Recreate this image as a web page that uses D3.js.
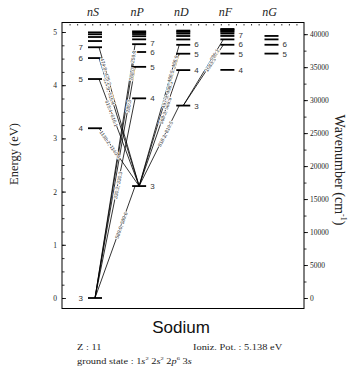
<!DOCTYPE html>
<html>
<head>
<meta charset="utf-8">
<script src="https://cdn.jsdelivr.net/npm/d3@7"></script>
<style>
  body { margin: 0; background: #fff; }
</style>
</head>
<body>
<svg id="chart" width="348" height="368"></svg>
<script>
// term series and their headers
const series = ["S", "P", "D", "F", "G"];
const seriesHeaders = ["nS", "nP", "nD", "nF", "nG"];
const firstN = { S: 3, P: 3, D: 3, F: 4, G: 5 };

// level energies (eV), starting at firstN of each series
const levelsS = [0, 3.191, 4.116, 4.510, 4.713, 4.830, 4.906, 4.957, 4.993];
const levelsP = [2.104, 3.753, 4.345, 4.624, 4.771, 4.862, 4.921, 4.962, 4.991, 5.012];
const levelsD = [3.617, 4.284, 4.592, 4.759, 4.860, 4.925, 4.970, 5.002, 5.026];
const levelsF = [4.288, 4.594, 4.760, 4.861, 4.926, 4.971, 5.003, 5.026, 5.044, 5.057];
const levelsG = [4.594, 4.760, 4.861, 4.926];

// which n get a number next to them
const labeledS = [3, 4, 5, 6, 7];
const labeledP = [3, 4, 5, 6, 7];
const labeledD = [3, 4, 5, 6];
const labeledF = [4, 5, 6, 7];
const labeledG = [5, 6];

// transitions (lower level, upper level, wavelength in nm)
const transLower = ["3S", "3S", "3S", "3S", "3S", "3P", "3P", "3P", "3P", "3P", "3P", "3P", "3P", "3D", "3D"];
const transUpper = ["3P", "4P", "5P", "6P", "7P", "4S", "5S", "6S", "7S", "3D", "4D", "5D", "6D", "6F", "7F"];
const transLabel = ["589.0, 589.6", "330.2, 330.3", "285.3", "268.0", "259.4",
  "1138.2, 1140.4", "615.4, 616.1", "514.9, 515.4", "474.8, 475.2",
  "818.3, 819.5", "568.3, 568.8", "497.9, 498.3", "466.5, 466.9",
  "1083.3", "996.1"];

// axis ticks
const energyTicks = [0, 1, 2, 3, 4, 5];
const waveTicks = [0, 5000, 10000, 15000, 20000, 25000, 30000, 35000, 40000];

const ionizationPot = 5.138;
const eVtoCm = 8065.54;

// ---- layout ----
const levels = { S: levelsS, P: levelsP, D: levelsD, F: levelsF, G: levelsG };
const labeled = { S: labeledS, P: labeledP, D: labeledD, F: labeledF, G: labeledG };
// where along each transition line its label sits (0 = lower end)
const labelAlong = [0.65, 0.565, 0.83, 0.91, 0.95, 0.72, 0.68, 0.74, 0.825, 0.65, 0.65, 0.69, 0.83, 0.67, 0.77];

const frame = { left: 62, right: 304, top: 22.5, bottom: 308.5 };
const halfW = 7;
const serif = "'Liberation Serif', 'DejaVu Serif', serif";
const sans = "'Liberation Sans', Arial, sans-serif";

const svg = d3.select("#chart");

const y = d3.scaleLinear().domain([0, 5]).range([298, 32]);
const yWave = d3.scaleLinear().domain([0, 40000]).range([y(0), y(40000 / eVtoCm)]);
const x = d3.scalePoint().domain(series).range([95, 271.5]);

// frame
svg.append("rect")
  .attr("x", frame.left).attr("y", frame.top)
  .attr("width", frame.right - frame.left).attr("height", frame.bottom - frame.top)
  .attr("fill", "none").attr("stroke", "#000").attr("stroke-width", 1);

// left axis: energy
const leftAxis = svg.append("g")
  .attr("transform", "translate(" + frame.left + ",0)")
  .call(d3.axisLeft(y).tickValues(energyTicks).tickSize(-4).tickPadding(5).tickFormat(d3.format("d")));
svg.append("g")
  .attr("transform", "translate(" + frame.left + ",0)")
  .call(d3.axisLeft(y).tickValues(d3.range(0, 5.01, 0.25)).tickSize(-2.5).tickFormat(""));

// right axis: wavenumber
const rightAxis = svg.append("g")
  .attr("transform", "translate(" + frame.right + ",0)")
  .call(d3.axisRight(yWave).tickValues(waveTicks).tickSize(4).tickPadding(2).tickFormat(d3.format("d")));
svg.append("g")
  .attr("transform", "translate(" + frame.right + ",0)")
  .call(d3.axisRight(yWave).tickValues(d3.range(0, 40001, 2500)).tickSize(2.5).tickFormat(""));

// top dotted ticks
const xTop = d3.scaleLinear().domain([0, 32]).range([frame.left, frame.right]);
svg.append("g")
  .attr("transform", "translate(0," + (frame.top + 1.5) + ")")
  .call(d3.axisBottom(xTop).tickValues(d3.range(1, 32)).tickSize(1.5).tickFormat(""));

svg.selectAll(".domain").remove();
svg.selectAll(".tick line").attr("stroke", "#000").attr("stroke-width", 0.8);
leftAxis.selectAll("text").attr("font-family", serif).attr("font-size", 7.5).attr("fill", "#222");
rightAxis.selectAll("text").attr("font-family", serif).attr("font-size", 7.5).attr("fill", "#222");

// axis titles
svg.append("text")
  .attr("transform", "translate(15," + 154 + ") rotate(-90)")
  .attr("text-anchor", "middle").attr("dominant-baseline", "middle")
  .attr("font-family", serif).attr("font-size", 12.5).attr("fill", "#222")
  .text("Energy (eV)");

const wl = svg.append("text")
  .attr("transform", "translate(338,170) rotate(90)")
  .attr("text-anchor", "middle").attr("dominant-baseline", "middle")
  .attr("font-family", serif).attr("font-size", 14).attr("fill", "#222");
wl.append("tspan").text("Wavenumber (cm");
wl.append("tspan").attr("font-size", 8).attr("dy", -5).text("-1");
wl.append("tspan").attr("dy", 5).text(")");

// series headers
svg.selectAll(".hdr")
  .data(series)
  .enter().append("text")
  .attr("x", d => x(d) - 2)
  .attr("y", 16)
  .attr("text-anchor", "middle")
  .attr("font-family", serif).attr("font-style", "italic").attr("font-size", 12).attr("fill", "#222")
  .text((d, i) => seriesHeaders[i]);

// levels
const levelData = [];
series.forEach(s => {
  levels[s].forEach((e, i) => levelData.push({ s: s, n: firstN[s] + i, e: e }));
});

svg.selectAll(".level")
  .data(levelData)
  .enter().append("line")
  .attr("x1", d => x(d.s) - halfW)
  .attr("x2", d => x(d.s) + halfW)
  .attr("y1", d => y(d.e))
  .attr("y2", d => y(d.e))
  .attr("stroke", "#000").attr("stroke-width", 1.8);

// level numbers, pushed apart where they would collide
const minGap = 9.3;
const lvlLabels = [];
series.forEach(s => {
  const list = levelData.filter(d => d.s === s && labeled[s].includes(d.n))
    .map(d => Object.assign({ ly: y(d.e) }, d))
    .sort((a, b) => b.ly - a.ly);
  for (let i = 1; i < list.length; i++) {
    if (list[i - 1].ly - list[i].ly < minGap) list[i].ly = list[i - 1].ly - minGap;
  }
  lvlLabels.push(...list);
});

svg.selectAll(".lvlLabel")
  .data(lvlLabels)
  .enter().append("text")
  .attr("x", d => d.s === "S" ? x(d.s) - halfW - 5 : x(d.s) + halfW + 4)
  .attr("y", d => d.ly + 0.5)
  .attr("text-anchor", d => d.s === "S" ? "end" : "start")
  .attr("dominant-baseline", "central")
  .attr("font-family", sans).attr("font-size", 8).attr("fill", "#333")
  .text(d => d.n);

// transitions
function levelOf(code) {
  const n = +code.slice(0, -1), s = code.slice(-1);
  return { s: s, n: n, e: levels[s][n - firstN[s]] };
}

const trans = transLower.map((lo, i) => {
  const a = levelOf(lo), b = levelOf(transUpper[i]);
  const dir = Math.sign(x(b.s) - x(a.s));
  const x1 = x(a.s), y1 = y(a.e);
  const x2 = x(b.s) - dir * 4, y2 = y(b.e);
  return { x1, y1, x2, y2, label: transLabel[i], t: labelAlong[i] };
});

svg.selectAll(".trans")
  .data(trans)
  .enter().append("line")
  .attr("x1", d => d.x1).attr("y1", d => d.y1)
  .attr("x2", d => d.x2).attr("y2", d => d.y2)
  .attr("stroke", "#000").attr("stroke-width", 0.8);

svg.selectAll(".transLabel")
  .data(trans)
  .enter().append("text")
  .attr("transform", d => {
    const cx = d.x1 + (d.x2 - d.x1) * d.t;
    const cy = d.y1 + (d.y2 - d.y1) * d.t;
    let ang = Math.atan2(d.y2 - d.y1, d.x2 - d.x1) * 180 / Math.PI;
    if (ang > 90) ang -= 180;
    if (ang < -90) ang += 180;
    return "translate(" + cx + "," + cy + ") rotate(" + ang + ")";
  })
  .attr("text-anchor", "middle").attr("dominant-baseline", "central")
  .attr("font-family", sans).attr("font-size", 5).attr("fill", "#333")
  .attr("stroke", "#fff").attr("stroke-width", 1.6).attr("paint-order", "stroke")
  .text(d => d.label);

// title and footer
svg.append("text")
  .attr("x", 181).attr("y", 333)
  .attr("text-anchor", "middle")
  .attr("font-family", sans).attr("font-size", 17).attr("fill", "#111")
  .text("Sodium");

svg.append("text")
  .attr("transform", "translate(77,349.5) scale(1.3,1)")
  .attr("font-family", serif).attr("font-size", 8).attr("fill", "#222")
  .text("Z :  11");

svg.append("text")
  .attr("transform", "translate(193,349.5) scale(1.3,1)")
  .attr("font-family", serif).attr("font-size", 8).attr("fill", "#222")
  .text("Ioniz. Pot. : " + ionizationPot + " eV");

const gs = svg.append("text")
  .attr("transform", "translate(77,363.5) scale(1.3,1)")
  .attr("font-family", serif).attr("font-size", 8).attr("fill", "#222");
gs.append("tspan").text("ground state : 1");
gs.append("tspan").attr("font-style", "italic").text("s");
gs.append("tspan").attr("font-size", 5).attr("dy", -3.5).text("2");
gs.append("tspan").attr("dy", 3.5).text(" 2");
gs.append("tspan").attr("font-style", "italic").text("s");
gs.append("tspan").attr("font-size", 5).attr("dy", -3.5).text("2");
gs.append("tspan").attr("dy", 3.5).text(" 2");
gs.append("tspan").attr("font-style", "italic").text("p");
gs.append("tspan").attr("font-size", 5).attr("dy", -3.5).text("6");
gs.append("tspan").attr("dy", 3.5).text(" 3");
gs.append("tspan").attr("font-style", "italic").text("s");
</script>
</body>
</html>
